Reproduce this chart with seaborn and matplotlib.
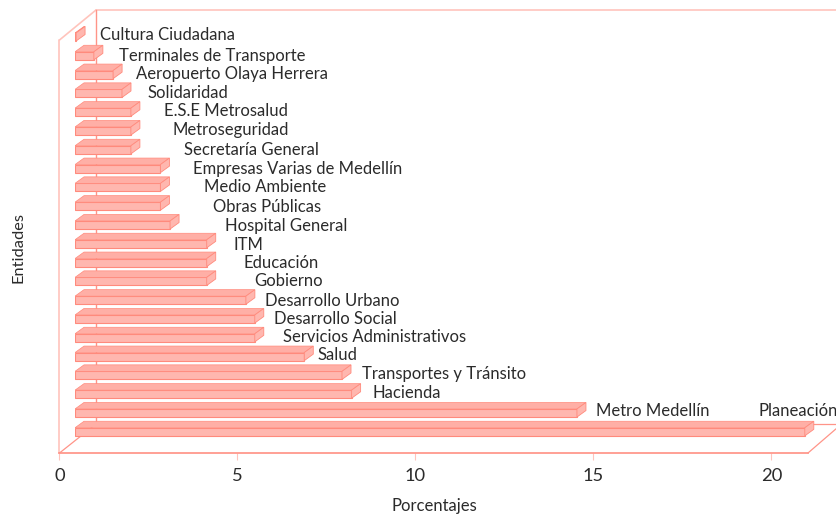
#!/usr/bin/env python3
"""Porcentajes por entidad, barras horizontales con aspecto 3D"""

import matplotlib
matplotlib.use("Agg")
import matplotlib.pyplot as plt
import pandas as pd
import seaborn as sns
from matplotlib.lines import Line2D
from matplotlib.patches import Polygon

entidades = ["Cultura Ciudadana", "Terminales de Transporte", "Aeropuerto Olaya Herrera",
             "Solidaridad", "E.S.E Metrosalud", "Metroseguridad", "Secretaría General",
             "Empresas Varias de Medellín", "Medio Ambiente", "Obras Públicas",
             "Hospital General", "ITM", "Educación", "Gobierno", "Desarrollo Urbano",
             "Desarrollo Social", "Servicios Administrativos", "Salud",
             "Transportes y Tránsito", "Hacienda", "Metro Medellín", "Planeación"]
porcentajes = [0.03, 0.53, 1.07, 1.32, 1.57, 1.57, 1.57, 2.4, 2.4, 2.4, 2.67,
               3.7, 3.7, 3.7, 4.8, 5.05, 5.05, 6.44, 7.5, 7.77, 14.1, 20.5]
ticks = [0, 5, 10, 15, 20]

# label anchors in image pixels, the original places them by hand
label_x = [100, 119, 136, 148, 164, 173, 184, 193, 204, 213, 225, 234, 244, 254,
           265, 274, 283, 318, 362, 373, 596, 759]
label_y = [35, 55, 74, 92, 111, 130, 149, 169, 186, 206, 225, 244, 262, 281,
           301, 319, 337, 355, 374, 393, 411, 411]

W, H = 837, 514
PX_PER_UNIT = 35.6
ROW_PX = 18.8
FRONT = "#FFB7AF"
TOP = "#FFAFA6"
SIDE = "#FFB7AF"
EDGE = "#FF8A7C"
WALL = "#FFC4BC"
TEXT = "#2b2b2b"

sns.set_theme(style="white")
plt.rcParams["font.family"] = ["Lato", "DejaVu Sans"]

fig = plt.figure(figsize=(W / 100, H / 100), dpi=100)


def px_line(xs, ys, color=WALL, lw=1.2, zorder=0):
    fig.add_artist(Line2D([x / W for x in xs], [1 - y / H for y in ys], color=color,
                          lw=lw, zorder=zorder, transform=fig.transFigure))


# box walls
px_line([96, 837], [10, 10])
px_line([59.5, 96], [40, 10])
px_line([59.5, 59.5], [40, 453])
px_line([96, 96], [10, 424], color="#FF9488", lw=1.0)
px_line([59.5, 96], [453, 424], color="#FF9488", lw=0.9)
px_line([96, 837], [424, 424], color="#FF9488", lw=0.9)
px_line([808, 837], [453, 428], color="#FF9488", lw=0.9)

# tick axis, origin at the front left corner
ax = fig.add_axes([59.5 / W, (H - 453) / H, (W - 59.5) / W, 0.01])
ax.patch.set_alpha(0)
ax.set_xlim(0, (W - 59.5) / PX_PER_UNIT)
ax.set_xticks(ticks)
ax.set_yticks([])
sns.despine(ax=ax, left=True)
ax.spines["bottom"].set_color("#FF9488")
ax.spines["bottom"].set_bounds(0, (808 - 59.5) / PX_PER_UNIT)
ax.tick_params(axis="x", length=5, width=0.8, color=WALL, labelcolor=TEXT,
               labelsize=13.2, pad=6, bottom=True)

# bars start at the depth offset of the floor
bar_ax = fig.add_axes([75 / W, 0, (W - 75) / W, 1])
bar_ax.patch.set_alpha(0)
df = pd.DataFrame({"entidad": entidades, "porcentaje": porcentajes})
sns.barplot(data=df, x="porcentaje", y="entidad", orient="h", color=FRONT, saturation=1,
            width=0.43, edgecolor=EDGE, linewidth=0.8, ax=bar_ax)
bar_ax.set_xlim(0, (W - 75) / PX_PER_UNIT)
bar_ax.set_ylim((H - 37) / ROW_PX, -37 / ROW_PX)
bar_ax.axis("off")

dx = 9 / PX_PER_UNIT
dy = 6.5 / ROW_PX
for bar in list(bar_ax.patches):
    x1 = bar.get_width()
    y0, y1 = bar.get_y(), bar.get_y() + bar.get_height()
    # y grows downwards here, y0 is the upper edge of the front face
    bar_ax.add_patch(Polygon([(0, y0), (dx, y0 - dy), (x1 + dx, y0 - dy), (x1, y0)],
                             facecolor=TOP, edgecolor=EDGE, lw=0.5))
    bar_ax.add_patch(Polygon([(x1, y0), (x1 + dx, y0 - dy), (x1 + dx, y1 - dy), (x1, y1)],
                             facecolor=SIDE, edgecolor=EDGE, lw=0.6))

for name, x, y in zip(entidades, label_x, label_y):
    fig.text(x / W, 1 - (y + 0.5) / H, name, ha="left", va="center", fontsize=12, color=TEXT)

fig.text(434 / W, 1 - 506 / H, "Porcentajes", ha="center", va="center", fontsize=12, color=TEXT)
fig.text(19 / W, 1 - 247 / H, "Entidades", ha="center", va="center", rotation=90,
         fontsize=11.8, color=TEXT)

fig.savefig("out.png", dpi=100)
